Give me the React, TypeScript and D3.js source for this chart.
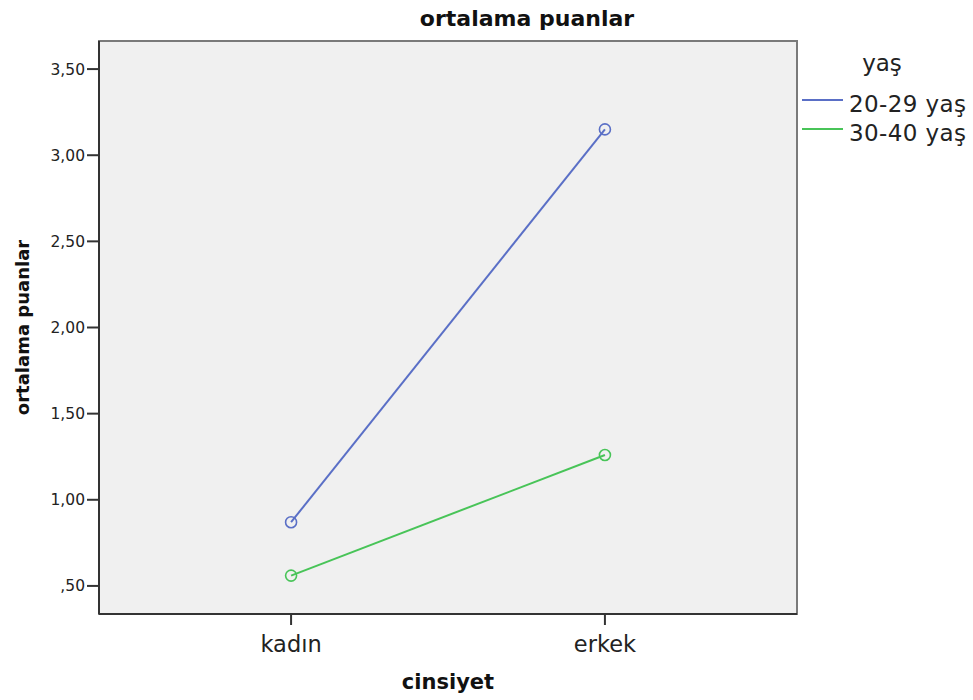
import React from "react";
import * as d3 from "d3";

const categories = ["kadın", "erkek"];
const seriesNames = ["20-29 yaş", "30-40 yaş"];
const series2029 = [0.87, 3.15];
const series3040 = [0.56, 1.26];
const yTicks = [0.5, 1.0, 1.5, 2.0, 2.5, 3.0, 3.5];
const colors = ["#5a6fc6", "#48c458"];

const W = 973, H = 700;
const L = 99, R = 797, T = 41, B = 614;

const fmt = (v: number) => {
  const s = v.toFixed(2).replace(".", ",");
  return s.startsWith("0") ? s.slice(1) : s;
};

export default function App() {
  const x = d3.scalePoint<string>().domain(categories).range([L, R]).padding(0.612);
  const y = d3.scaleLinear().domain([0.337, 3.663]).range([B, T]);
  const allSeries = [series2029, series3040];
  const line = d3
    .line<number>()
    .x((_, i) => x(categories[i]) as number)
    .y((d) => y(d));
  const font = "'DejaVu Sans', Verdana, sans-serif";
  return (
    <svg width={W} height={H} style={{ position: "absolute", left: 0, top: 0, background: "#fff" }} fontFamily={font}>
      <rect x={L} y={T} width={R - L} height={B - T} fill="#f0f0f0" stroke="#7a7a7a" strokeWidth={2} />
      <line x1={L} x2={L} y1={T} y2={B} stroke="#333" strokeWidth={2} />
      <line x1={L} x2={R} y1={B} y2={B} stroke="#333" strokeWidth={2} />
      {yTicks.map((t) => (
        <g key={t}>
          <line x1={L - 12} x2={L} y1={y(t)} y2={y(t)} stroke="#333" strokeWidth={2} />
          <text x={L - 14} y={y(t)} dy="0.36em" textAnchor="end" fontSize={15.5} fill="#222">
            {fmt(t)}
          </text>
        </g>
      ))}
      {categories.map((c) => (
        <g key={c}>
          <line x1={x(c)} x2={x(c)} y1={B} y2={B + 11} stroke="#333" strokeWidth={2} />
          <text x={x(c)} y={652} textAnchor="middle" fontSize={22.5} fill="#222">
            {c}
          </text>
        </g>
      ))}
      {allSeries.map((s, i) => (
        <g key={i}>
          <path d={line(s) || ""} fill="none" stroke={colors[i]} strokeWidth={2} />
          {s.map((v, j) => (
            <circle key={j} cx={x(categories[j])} cy={y(v)} r={5.5} fill="none" stroke={colors[i]} strokeWidth={1.6} />
          ))}
        </g>
      ))}
      <text x={527} y={26} textAnchor="middle" fontSize={22} fontWeight="bold" fill="#111">
        ortalama puanlar
      </text>
      <text x={(L + R) / 2} y={689} textAnchor="middle" fontSize={21} fontWeight="bold" fill="#111">
        cinsiyet
      </text>
      <text transform={`translate(29, ${(T + B) / 2}) rotate(-90)`} textAnchor="middle" fontSize={18} fontWeight="bold" fill="#111">
        ortalama puanlar
      </text>
      <text x={882} y={71} textAnchor="middle" fontSize={23} fill="#222">
        yaş
      </text>
      {seriesNames.map((n, i) => (
        <g key={n}>
          <line x1={802} x2={843} y1={100 + i * 29} y2={100 + i * 29} stroke={colors[i]} strokeWidth={2} />
          <text x={849} y={112 + i * 29} fontSize={23} letterSpacing={0.4} fill="#222">
            {n}
          </text>
        </g>
      ))}
    </svg>
  );
}
